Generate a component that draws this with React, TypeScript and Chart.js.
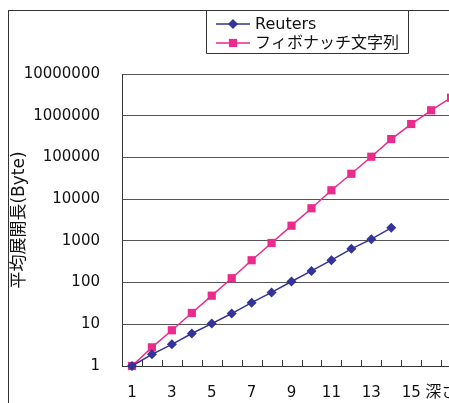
import { useEffect, useRef } from 'react';
import { Chart, registerables } from 'chart.js';
import { drawPoint } from 'chart.js/helpers';

Chart.register(...registerables);

// Depth values on the x axis
const DEPTHS = ['1', '2', '3', '4', '5', '6', '7', '8', '9', '10', '11', '12', '13', '14', '15', '16', '17', '18'];
// Last depth that gets a numeric label; the axis name follows it
const LAST_LABELLED = 15;
// Average expanded length per depth (bytes)
const REUTERS = [1, 1.9, 3.3, 6.0, 10.4, 18.1, 33, 58, 106, 190, 344, 643, 1100, 2050];
const FIBONACCI = [1, 2.8, 7.2, 18.7, 48.5, 127, 343, 890, 2310, 6040, 16300, 40600, 104000, 275000, 632000, 1350000, 2700000];
const Y_TICKS = [1, 10, 100, 1000, 10000, 100000, 1000000, 10000000];
const SERIES_NAMES = ['Reuters', 'フィボナッチ文字列'];
const X_TITLE = '深さ';
const Y_TITLE = '平均展開長(Byte)';

const FONT = "'DejaVu Sans', 'Noto Sans CJK JP', sans-serif";
const NAVY = '#333399';
const PINK = '#ea2a8d';
const AXIS = '#333333';

// Boxed legend in the top area, hanging from the chart frame
const boxLegend = {
  id: 'boxLegend',
  afterDraw(chart: any) {
    const { ctx } = chart;
    ctx.save();
    ctx.strokeStyle = AXIS;
    ctx.lineWidth = 1;
    ctx.beginPath();
    ctx.moveTo(197.5, 0);
    ctx.lineTo(197.5, 42.5);
    ctx.lineTo(399.5, 42.5);
    ctx.lineTo(399.5, 0);
    ctx.stroke();
    chart.data.datasets.forEach((ds: any, i: number) => {
      const y = 13 + i * 19;
      ctx.strokeStyle = ds.borderColor;
      ctx.lineWidth = ds.borderWidth;
      ctx.beginPath();
      ctx.moveTo(207, y);
      ctx.lineTo(241, y);
      ctx.stroke();
      ctx.fillStyle = ds.backgroundColor;
      drawPoint(ctx, { pointStyle: ds.pointStyle, radius: ds.pointRadius, borderWidth: 0, rotation: 0 } as any, 224, y);
      ctx.fillStyle = '#111';
      ctx.font = `16px ${FONT}`;
      ctx.textAlign = 'left';
      ctx.textBaseline = 'middle';
      ctx.fillText(ds.label, 246, y + 1);
    });
    ctx.restore();
  },
};

// Short tick marks pointing up from the x axis at category boundaries,
// plus the x axis name on the tick-label row after the last number
const xAxisExtras = {
  id: 'xAxisExtras',
  beforeDatasetsDraw(chart: any) {
    const { ctx, chartArea } = chart;
    const xs = chart.scales.x;
    ctx.save();
    ctx.strokeStyle = AXIS;
    ctx.lineWidth = 1;
    ctx.beginPath();
    for (let i = 0; i <= DEPTHS.length; i++) {
      const px = Math.round(xs.getPixelForValue(i - 0.5)) + 0.5;
      ctx.moveTo(px, chartArea.bottom);
      ctx.lineTo(px, chartArea.bottom - 6);
    }
    ctx.stroke();
    ctx.restore();
  },
  afterDraw(chart: any) {
    const { ctx, chartArea } = chart;
    const xs = chart.scales.x;
    ctx.save();
    ctx.fillStyle = '#111';
    ctx.font = `16px ${FONT}`;
    ctx.textAlign = 'left';
    ctx.textBaseline = 'middle';
    ctx.fillText(X_TITLE, xs.getPixelForValue(LAST_LABELLED) - 6, chartArea.bottom + 27);
    ctx.restore();
  },
};

export default function App() {
  const ref = useRef<HTMLCanvasElement>(null);

  useEffect(() => {
    if (!ref.current) return;
    const chart = new Chart(ref.current, {
      type: 'line',
      data: {
        labels: DEPTHS,
        datasets: [
          {
            label: SERIES_NAMES[0],
            data: REUTERS,
            borderColor: NAVY,
            backgroundColor: NAVY,
            borderWidth: 1.5,
            pointStyle: 'rectRot',
            pointRadius: 5,
            pointBorderWidth: 0,
            clip: false,
          },
          {
            label: SERIES_NAMES[1],
            data: FIBONACCI,
            borderColor: PINK,
            backgroundColor: PINK,
            borderWidth: 1.5,
            pointStyle: 'rect',
            pointRadius: 5.8,
            pointBorderWidth: 0,
            clip: false,
          },
        ],
      },
      options: {
        responsive: false,
        animation: false,
        layout: { padding: { left: 0, top: 63, right: 18, bottom: 15 } },
        plugins: { legend: { display: false }, tooltip: { enabled: false } },
        scales: {
          x: {
            type: 'category',
            offset: true,
            grid: { drawOnChartArea: false, drawTicks: false },
            border: { display: true, color: AXIS, width: 1 },
            ticks: {
              autoSkip: false,
              maxRotation: 0,
              padding: 18,
              color: '#111',
              font: { family: FONT, size: 15 },
              callback: (_v: any, i: number) => (i % 2 === 0 && i < LAST_LABELLED ? DEPTHS[i] : ''),
            },
            afterFit: (s: any) => {
              s.height = 40;
            },
          },
          y: {
            type: 'logarithmic',
            min: 1,
            max: 10000000,
            grid: { color: '#555', lineWidth: 1, drawTicks: false },
            border: { display: true, color: AXIS, width: 1 },
            ticks: {
              padding: 22,
              color: '#111',
              font: { family: FONT, size: 15 },
              callback: (v: any) => String(v),
            },
            afterBuildTicks: (s: any) => {
              s.ticks = Y_TICKS.map((v) => ({ value: v }));
            },
            afterFit: (s: any) => {
              s.width = 113;
            },
            title: {
              display: true,
              text: Y_TITLE,
              color: '#111',
              font: { family: FONT, size: 17 },
              padding: { top: 0, bottom: 0 },
            },
          },
        },
      },
      plugins: [xAxisExtras, boxLegend],
    });
    return () => chart.destroy();
  }, []);

  return (
    <div style={{ position: 'fixed', left: 0, top: 0, width: 449, height: 403, overflow: 'hidden', background: '#fff' }}>
      <div
        style={{
          position: 'absolute',
          left: 8,
          top: 10,
          borderLeft: `1px solid ${AXIS}`,
          borderTop: `1px solid ${AXIS}`,
        }}
      >
        <canvas ref={ref} width={490} height={410} style={{ display: 'block' }} />
      </div>
    </div>
  );
}
